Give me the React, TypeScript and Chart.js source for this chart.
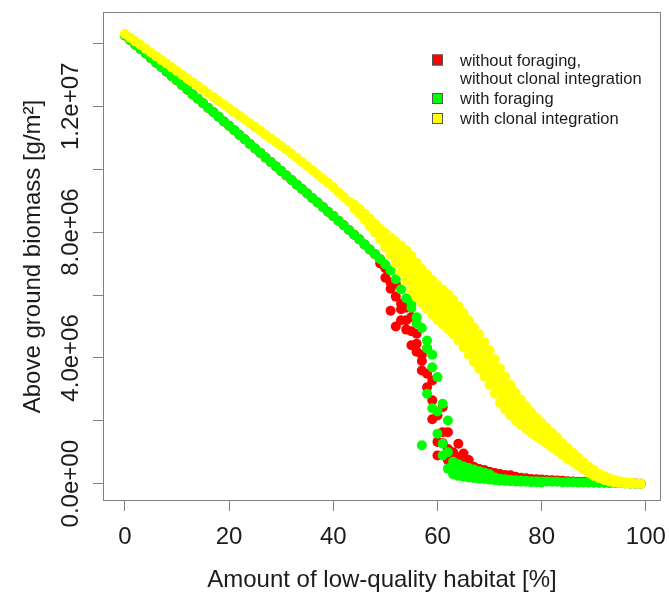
import React, { useEffect, useRef } from "react";
import { Chart, registerables } from "chart.js";

Chart.register(...registerables);

// ---------- data (biomass in units of 1e6 g/m²) ----------
const habitat = [
  0, 1, 2, 3, 4, 5, 6, 7, 8, 9, 10, 11, 12, 13, 14, 15, 16, 17, 18, 19,
  20, 21, 22, 23, 24, 25, 26, 27, 28, 29, 30, 31, 32, 33, 34, 35, 36, 37, 38, 39,
  40, 41, 42, 43, 44, 45, 46, 47, 48, 49, 50, 51, 52, 53, 54, 55, 56, 57, 58, 59,
  60, 61, 62, 63, 64, 65, 66, 67, 68, 69, 70, 71, 72, 73, 74, 75, 76, 77, 78, 79,
  80, 81, 82, 83, 84, 85, 86, 87, 88, 89, 90, 91, 92, 93, 94, 95, 96, 97, 98, 99,
];

// without foraging, without clonal integration
const redMain = [
  14.25, 14.11, 13.96, 13.82, 13.68, 13.53, 13.39, 13.25, 13.10, 12.96,
  12.82, 12.67, 12.53, 12.38, 12.24, 12.10, 11.95, 11.81, 11.67, 11.52,
  11.38, 11.24, 11.09, 10.95, 10.80, 10.66, 10.52, 10.37, 10.23, 10.09,
  9.94, 9.80, 9.66, 9.51, 9.37, 9.23, 9.08, 8.94, 8.80, 8.65,
  8.51, 8.36, 8.22, 8.07, 7.92, 7.77, 7.61, 7.45, 7.30, 7.14,
  6.85, 6.40, 5.95, 5.55, 5.20, 4.85, 4.45, 4.10, 3.50, 2.65,
  2.17, 1.64, 1.10, 0.80, 0.62, 0.55, 0.60, 0.53, 0.47, 0.43,
  0.38, 0.34, 0.31, 0.28, 0.27, 0.22, 0.19, 0.17, 0.15, 0.14,
  0.13, 0.12, 0.11, 0.10, 0.09, 0.08, 0.07, 0.06, 0.06, 0.05,
  0.05, 0.04, 0.04, 0.03, 0.03, 0.02, 0.02, 0.01, 0.01, 0.00,
];
const redRep2Start = 49;
const redRep2 = [
  7.00, 6.55, 6.20, 5.00, 5.72, 4.90, 5.30, 4.77, 3.60, 4.30,
  3.28, 1.33, 2.43, 1.64, 1.00, 1.27, 0.96, 0.75, 0.53, 0.45,
  0.43, 0.35,
];
const redRep3Start = 51;
const redRep3 = [
  5.50, 6.36, 5.20, 5.60, 4.40, 4.20, 3.90, 3.07, 2.05, 0.90,
  1.29, 0.75, 0.60, 0.85, 0.65, 0.55,
];

// with foraging
const greenMain = [
  14.25, 14.11, 13.96, 13.82, 13.68, 13.53, 13.39, 13.25, 13.10, 12.96,
  12.82, 12.67, 12.53, 12.38, 12.24, 12.10, 11.95, 11.81, 11.67, 11.52,
  11.38, 11.24, 11.09, 10.95, 10.80, 10.66, 10.52, 10.37, 10.23, 10.09,
  9.94, 9.80, 9.66, 9.51, 9.37, 9.23, 9.08, 8.94, 8.80, 8.65,
  8.51, 8.36, 8.22, 8.07, 7.92, 7.77, 7.61, 7.45, 7.30, 7.14,
  6.97, 6.78, 6.50, 6.18, 5.90, 5.60, 5.29, 4.95, 4.55, 4.10,
  3.39, 2.54, 2.01, 0.70, 0.55, 0.45, 0.40, 0.36, 0.32, 0.28,
  0.24, 0.20, 0.16, 0.14, 0.12, 0.11, 0.10, 0.09, 0.08, 0.08,
  0.07, 0.07, 0.06, 0.06, 0.05, 0.05, 0.05, 0.04, 0.04, 0.04,
  0.03, 0.03, 0.03, 0.02, 0.02, 0.02, 0.01, 0.01, 0.00, 0.00,
];
const greenRep2Start = 55;
const greenRep2 = [
  5.75, 5.10, 1.22, 2.86, 3.70, 1.59, 1.27, 0.48, 0.30, 0.25,
  0.22, 0.20, 0.18, 0.16, 0.15, 0.13, 0.11, 0.10, 0.09, 0.08,
  0.07, 0.06, 0.06, 0.05, 0.05, 0.04,
];
const greenRep3Start = 58;
const greenRep3 = [
  4.30, 2.40, 2.30, 0.90, 1.00, 0.45, 0.62, 0.55, 0.50, 0.45,
  0.40, 0.35, 0.30,
];

// with clonal integration
const yellowMain = [
  14.30, 14.18, 14.06, 13.95, 13.83, 13.71, 13.59, 13.47, 13.36, 13.24,
  13.12, 13.00, 12.88, 12.77, 12.65, 12.53, 12.41, 12.29, 12.17, 12.06,
  11.94, 11.82, 11.70, 11.58, 11.46, 11.34, 11.22, 11.10, 10.98, 10.86,
  10.74, 10.62, 10.49, 10.36, 10.23, 10.10, 9.97, 9.83, 9.70, 9.56,
  9.42, 9.27, 9.12, 8.97, 8.82, 8.66, 8.49, 8.31, 8.13, 7.94,
  7.75, 7.55, 7.35, 7.15, 6.93, 6.70, 6.47, 6.28, 6.10, 5.93,
  5.76, 5.62, 5.47, 5.30, 5.10, 4.88, 4.65, 4.42, 4.20, 3.95,
  3.69, 3.41, 3.12, 2.88, 2.66, 2.45, 2.27, 2.10, 1.94, 1.80,
  1.66, 1.52, 1.38, 1.24, 1.10, 0.96, 0.83, 0.70, 0.57, 0.45,
  0.34, 0.25, 0.18, 0.12, 0.08, 0.05, 0.03, 0.02, 0.01, 0.00,
];
const yellowRepStart = 44;
const yellowUpper = [
  8.88, 8.74, 8.59, 8.43, 8.27, 8.11, 7.97, 7.83, 7.70, 7.57,
  7.42, 7.25, 7.02, 6.83, 6.65, 6.48, 6.31, 6.17, 6.02, 5.85,
  5.65, 5.43, 5.20, 4.97, 4.75, 4.50, 4.24, 3.96, 3.67, 3.40,
  3.14, 2.89, 2.67, 2.46, 2.27, 2.10, 1.93, 1.77, 1.61, 1.45,
  1.29, 1.13, 0.98, 0.83, 0.69, 0.55, 0.43, 0.32, 0.24, 0.17,
  0.12, 0.08, 0.05, 0.03,
];
const yellowLower = [
  8.76, 8.58, 8.39, 8.19, 7.99, 7.77, 7.53, 7.27, 7.00, 6.73,
  6.44, 6.15, 5.92, 5.73, 5.55, 5.38, 5.21, 5.07, 4.92, 4.75,
  4.55, 4.33, 4.10, 3.87, 3.65, 3.40, 3.14, 2.86, 2.57, 2.36,
  2.18, 2.01, 1.87, 1.74, 1.61, 1.50, 1.39, 1.27, 1.15, 1.03,
  0.91, 0.79, 0.68, 0.57, 0.45, 0.35, 0.25, 0.18, 0.12, 0.07,
  0.04, 0.02, 0.01, 0.01,
];
const yellowMidStart = 50;
const yellowUpperMid = [
  7.86, 7.69, 7.53, 7.36, 7.18, 6.98, 6.75, 6.56, 6.38, 6.21,
  6.04, 5.90, 5.75, 5.58, 5.38, 5.16, 4.93, 4.70, 4.48, 4.23,
  3.97, 3.69, 3.40, 3.14, 2.90, 2.67, 2.47, 2.28, 2.11, 1.95,
  1.80, 1.65, 1.50, 1.35, 1.20, 1.05,
];
const yellowLowerMid = [
  7.64, 7.41, 7.17, 6.94, 6.68, 6.42, 6.19, 6.00, 5.82, 5.65,
  5.48, 5.34, 5.19, 5.02, 4.82, 4.60, 4.37, 4.14, 3.92, 3.67,
  3.41, 3.13, 2.84, 2.62, 2.42, 2.23, 2.07, 1.92, 1.77, 1.65,
  1.52, 1.39, 1.26, 1.13, 1.00, 0.87,
];

const xTickValues = [0, 20, 40, 60, 80, 100];
const xTickLabels = ["0", "20", "40", "60", "80", "100"];
const yTickValues = [0, 2, 4, 6, 8, 10, 12, 14];
const yTickLabels = ["0.0e+00", "", "4.0e+06", "", "8.0e+06", "", "1.2e+07", ""];

const legendLabels = [
  ["without foraging,", "without clonal integration"],
  ["with foraging"],
  ["with clonal integration"],
];
const RED = "#ff0000";
const GREEN = "#00ff00";
const YELLOW = "#ffff00";
const legendColors = [RED, GREEN, YELLOW];

const FONT = "'Liberation Sans', Arial, Helvetica, sans-serif";
const TEXT = "#1c1c1c";
const AXIS = "#808080";
const W = 669;
const H = 595;

function pts(xs: number[], ys: number[], start = 0) {
  return ys.map((y, i) => ({ x: xs[start + i], y }));
}

function ds(data: { x: number; y: number }[], color: string) {
  return {
    data,
    backgroundColor: color,
    borderColor: color,
    pointBackgroundColor: color,
    pointBorderColor: color,
    pointBorderWidth: 0,
    borderWidth: 0,
    pointRadius: 5,
    pointHoverRadius: 5,
    showLine: false,
  };
}

const framePlugin = {
  id: "frame",
  beforeDatasetsDraw(chart: any) {
    const { ctx, chartArea: a } = chart;
    ctx.save();
    ctx.strokeStyle = AXIS;
    ctx.lineWidth = 1;
    ctx.strokeRect(
      Math.round(a.left) + 0.5,
      Math.round(a.top) + 0.5,
      Math.round(a.right - a.left) - 1,
      Math.round(a.bottom - a.top) - 1
    );
    ctx.restore();
  },
  afterDraw(chart: any) {
    const { ctx, chartArea: a } = chart;
    const ys = chart.scales.y;
    ctx.save();
    // rotated y tick labels
    ctx.font = `24px ${FONT}`;
    ctx.fillStyle = TEXT;
    ctx.textAlign = "center";
    ctx.textBaseline = "middle";
    yTickValues.forEach((v, i) => {
      const lab = yTickLabels[i];
      if (!lab) return;
      const py = ys.getPixelForValue(v);
      ctx.save();
      ctx.translate(ys.right - 32, py);
      ctx.rotate(-Math.PI / 2);
      ctx.fillText(lab, 0, 0);
      ctx.restore();
    });
    // legend
    const boxX = a.right - 229;
    const textX = a.right - 201;
    let y = a.top + 48;
    ctx.font = `16.5px ${FONT}`;
    ctx.textAlign = "left";
    ctx.textBaseline = "middle";
    const lineH = 18.5;
    legendLabels.forEach((lines, i) => {
      ctx.fillStyle = legendColors[i];
      ctx.fillRect(boxX, y - 5.5, 11, 11);
      ctx.strokeStyle = "#555";
      ctx.lineWidth = 1;
      ctx.strokeRect(boxX + 0.5, y - 5.5 + 0.5, 10, 10);
      ctx.fillStyle = TEXT;
      lines.forEach((t, j) => ctx.fillText(t, textX, y + 1 + j * lineH));
      y += lines.length * lineH + 1.5;
    });
    ctx.restore();
  },
};

export default function App() {
  const ref = useRef<HTMLCanvasElement>(null);
  useEffect(() => {
    if (!ref.current) return;
    const chart = new Chart(ref.current, {
      type: "scatter",
      data: {
        datasets: [
          ds(pts(habitat, yellowUpper, yellowRepStart), YELLOW),
          ds(pts(habitat, yellowUpperMid, yellowMidStart), YELLOW),
          ds(pts(habitat, yellowMain), YELLOW),
          ds(pts(habitat, yellowLowerMid, yellowMidStart), YELLOW),
          ds(pts(habitat, yellowLower, yellowRepStart), YELLOW),
          ds(pts(habitat, greenRep3, greenRep3Start), GREEN),
          ds(pts(habitat, greenRep2, greenRep2Start), GREEN),
          ds(pts(habitat, greenMain), GREEN),
          ds(pts(habitat, redRep3, redRep3Start), RED),
          ds(pts(habitat, redRep2, redRep2Start), RED),
          ds(pts(habitat, redMain), RED),
        ] as any,
      },
      options: {
        animation: false,
        responsive: false,
        events: [],
        layout: { padding: { left: 0, top: 12, right: 8, bottom: 0 } },
        plugins: { legend: { display: false }, tooltip: { enabled: false } },
        scales: {
          x: {
            type: "linear",
            min: -4.2,
            max: 102.9,
            afterBuildTicks: (s: any) => {
              s.ticks = xTickValues.map((v) => ({ value: v }));
            },
            afterFit: (s: any) => {
              s.height = 94;
              s.paddingLeft = 0;
              s.paddingRight = 0;
            },
            border: { display: false },
            grid: {
              display: true,
              drawOnChartArea: false,
              drawTicks: true,
              tickLength: 10,
              color: AXIS,
              lineWidth: 1,
            },
            ticks: {
              padding: 12,
              color: TEXT,
              font: { size: 24, family: FONT },
              maxRotation: 0,
              minRotation: 0,
              callback: (_v: any, i: number) => xTickLabels[i],
            },
            title: {
              display: true,
              text: "Amount of low-quality habitat [%]",
              color: TEXT,
              font: { size: 24, family: FONT },
              padding: { top: 0, bottom: 0 },
            },
          },
          y: {
            type: "linear",
            min: -0.55,
            max: 15.0,
            afterBuildTicks: (s: any) => {
              s.ticks = yTickValues.map((v) => ({ value: v }));
            },
            afterFit: (s: any) => {
              s.width = 103;
              s.paddingTop = 0;
              s.paddingBottom = 0;
            },
            border: { display: false },
            grid: {
              display: true,
              drawOnChartArea: false,
              drawTicks: true,
              tickLength: 10,
              color: AXIS,
              lineWidth: 1,
            },
            ticks: { display: false },
            title: {
              display: true,
              text: "Above ground biomass [g/m²]",
              color: TEXT,
              font: { size: 24, family: FONT },
              padding: { top: 18.6, bottom: 0 },
            },
          },
        },
      },
      plugins: [framePlugin],
    } as any);
    return () => chart.destroy();
  }, []);

  return (
    <div
      style={{
        position: "fixed",
        left: 0,
        top: 0,
        width: W,
        height: H,
        background: "#fff",
      }}
    >
      <canvas ref={ref} width={W} height={H} style={{ display: "block", width: W, height: H }} />
    </div>
  );
}
